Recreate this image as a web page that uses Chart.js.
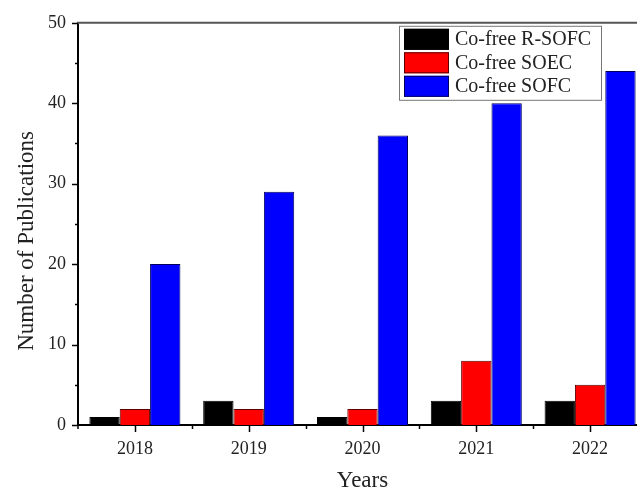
<!DOCTYPE html>
<html>
<head>
<meta charset="utf-8">
<script src="https://cdn.jsdelivr.net/npm/chart.js@4/dist/chart.umd.min.js"></script>
<style>
  html, body { margin: 0; padding: 0; background: #fff; overflow: hidden; }
  #wrap { position: absolute; left: 0; top: 0; width: 660px; height: 489px; }
</style>
</head>
<body>
<div id="wrap"><canvas id="c" width="660" height="489"></canvas></div>
<script>
// Publications per year, by cell type
const years = ['2018', '2019', '2020', '2021', '2022'];
const rsofc = [1, 3, 1, 3, 3];
const soec  = [2, 2, 2, 8, 5];
const sofc  = [20, 29, 36, 40, 44];
const seriesNames = ['Co-free R-SOFC', 'Co-free SOEC', 'Co-free SOFC'];
const seriesColors = ['#000000', '#ff0000', '#0000ff'];
const seriesEdges = ['#000000', '#5a0000', '#00005a'];
const yTickLabels = [0, 10, 20, 30, 40, 50];
const xTitle = 'Years';
const yTitle = 'Number of Publications';

const FONT = '"Liberation Serif", "Times New Roman", serif';
const INK = '#222';

// Axis ticks (major/minor), top frame line, axis titles and the inset legend
const decorations = {
  id: 'decorations',
  afterDraw(chart) {
    const ctx = chart.ctx;
    const a = chart.chartArea;
    const x = chart.scales.x, y = chart.scales.y;
    ctx.save();
    // top frame
    ctx.strokeStyle = '#555';
    ctx.lineWidth = 2;
    ctx.beginPath();
    ctx.moveTo(a.left - 1, a.top);
    ctx.lineTo(chart.width, a.top);
    ctx.stroke();

    ctx.strokeStyle = '#000';
    ctx.lineWidth = 1.5;
    // y ticks
    for (let v = y.min; v <= y.max; v += 5) {
      const py = Math.round(y.getPixelForValue(v)) + 0.5;
      const len = (v % 10 === 0) ? 6 : 3;
      ctx.beginPath();
      ctx.moveTo(a.left - len, py);
      ctx.lineTo(a.left, py);
      ctx.stroke();
    }
    // x ticks: major at categories, minor at category boundaries
    const n = years.length;
    for (let i = 0; i < n; i++) {
      const px = Math.round(x.getPixelForTick(i)) + 0.5;
      ctx.beginPath();
      ctx.moveTo(px, a.bottom);
      ctx.lineTo(px, a.bottom + 7);
      ctx.stroke();
      if (i > 0) {
        const mx = Math.round((x.getPixelForTick(i) + x.getPixelForTick(i - 1)) / 2) + 0.5;
        ctx.beginPath();
        ctx.moveTo(mx, a.bottom);
        ctx.lineTo(mx, a.bottom + 4);
        ctx.stroke();
      }
    }
    ctx.beginPath();
    ctx.moveTo(a.left, a.bottom);
    ctx.lineTo(a.left, a.bottom + 4);
    ctx.stroke();

    // axis titles
    ctx.fillStyle = INK;
    ctx.font = '23px ' + FONT;
    ctx.textAlign = 'center';
    ctx.textBaseline = 'alphabetic';
    ctx.fillText(xTitle, (a.left + a.right) / 2, 487);
    ctx.save();
    ctx.translate(33, (a.top + a.bottom) / 2 + 17);
    ctx.rotate(-Math.PI / 2);
    ctx.fillText(yTitle, 0, 0);
    ctx.restore();

    // legend
    const lx = a.left + 321, ly = a.top + 3;
    const lw = 202, lh = 74;
    ctx.strokeStyle = '#777';
    ctx.lineWidth = 1;
    ctx.strokeRect(lx + 0.5, ly + 0.5, lw, lh);
    ctx.font = '20px ' + FONT;
    ctx.textAlign = 'left';
    ctx.textBaseline = 'middle';
    chart.data.datasets.forEach((ds, i) => {
      const ry = ly + 3 + i * 23.5;
      ctx.fillStyle = ds.backgroundColor;
      ctx.fillRect(lx + 5, ry, 45, 21);
      ctx.strokeStyle = ds.borderColor;
      ctx.strokeRect(lx + 5.5, ry + 0.5, 44, 20);
      ctx.fillStyle = INK;
      ctx.fillText(ds.label, lx + 56, ry + 11);
    });
    ctx.restore();
  }
};

const datasets = [rsofc, soec, sofc].map((vals, i) => ({
  label: seriesNames[i],
  data: vals,
  backgroundColor: seriesColors[i],
  borderColor: seriesEdges[i],
  borderWidth: 1,
  categoryPercentage: 0.8,
  barPercentage: 1.0
}));

new Chart(document.getElementById('c'), {
  type: 'bar',
  data: { labels: years, datasets },
  options: {
    responsive: false,
    animation: false,
    layout: { padding: { top: 21, right: 13, left: 0, bottom: 0 } },
    plugins: { legend: { display: false }, tooltip: { enabled: false } },
    scales: {
      x: {
        offset: true,
        grid: { display: false, drawTicks: false },
        border: { display: true, color: '#000', width: 2 },
        ticks: { color: INK, font: { family: FONT, size: 18 }, padding: 13, maxRotation: 0 },
        afterFit(s) { s.height = 64; }
      },
      y: {
        min: 0, max: 50,
        grid: { display: false, drawTicks: false },
        border: { display: true, color: '#000', width: 2 },
        ticks: {
          stepSize: 5,
          color: INK,
          font: { family: FONT, size: 18 },
          padding: 12,
          callback: v => yTickLabels.includes(v) ? String(v) : ''
        },
        afterFit(s) { s.width = 78; }
      }
    }
  },
  plugins: [decorations]
});
</script>
</body>
</html>
